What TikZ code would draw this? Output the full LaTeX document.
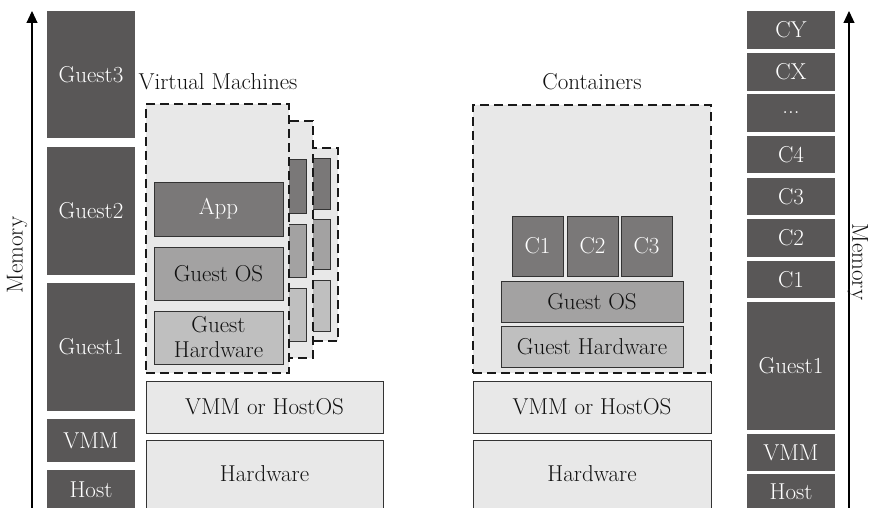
\documentclass[tikz,border=0pt]{standalone}
\usetikzlibrary{arrows.meta}
\definecolor{dk}{HTML}{595757}
\definecolor{appc}{HTML}{7A7878}
\definecolor{osc}{HTML}{A3A2A2}
\definecolor{hwc}{HTML}{BFBFBF}
\definecolor{lt}{HTML}{E8E8E8}
\definecolor{edge}{HTML}{333333}
\definecolor{txtd}{HTML}{111111}
\newcommand\mybox[7]{\node[#1, anchor=north west, minimum width={#5pt-#3pt}, minimum height={#6pt-#4pt}] (#2) at (#3,#4) {#7};}
\tikzset{
  base/.style={inner sep=0pt, outer sep=0pt, font=\fontsize{23}{25}\selectfont, align=center},
  mem/.style={base, fill=dk, text=white},
  appbox/.style={base, fill=appc, draw=edge, line width=0.9pt, text=white},
  osbox/.style={base, fill=osc, draw=edge, line width=0.9pt, text=txtd},
  hwbox/.style={base, fill=hwc, draw=edge, line width=0.9pt, text=txtd},
  ltbox/.style={base, fill=lt, draw=edge, line width=0.9pt, text=txtd},
  dashbox/.style={base, fill=lt, draw=black!90, line width=2pt, dash pattern=on 9pt off 5pt},
  memarrow/.style={draw=black, line width=1.1pt, -{Triangle[length=12pt,width=11pt]}},
  lbl/.style={base, text=txtd}
}
\begin{document}
\begin{tikzpicture}[x=1pt,y=-1pt]
\useasboundingbox (0,0) rectangle (870,508);
\clip (0,0) rectangle (870,508);
% left memory stack
\mybox{mem}{lG3}{47}{11}{135}{138}{Guest3}
\mybox{mem}{lG2}{47}{147}{135}{275}{Guest2}
\mybox{mem}{lG1}{47}{283}{135}{411}{Guest1}
\mybox{mem}{lVMM}{47}{419}{135}{462}{VMM}
\mybox{mem}{lHost}{47}{470}{135}{510}{Host}
\coordinate (la0) at (32,510);
\coordinate (la1) at (32,11);
\draw[memarrow] (la0) -- (la1);
\node[lbl, rotate=90] (memL) at (17,255) {Memory};
% right memory stack
\mybox{mem}{rCY}{747}{11}{835}{49}{CY}
\mybox{mem}{rCX}{747}{53}{835}{91}{CX}
\mybox{mem}{rDots}{747}{94}{835}{132}{...}
\mybox{mem}{rC4}{747}{136}{835}{173}{C4}
\mybox{mem}{rC3}{747}{178}{835}{215}{C3}
\mybox{mem}{rC2}{747}{219}{835}{257}{C2}
\mybox{mem}{rC1}{747}{261}{835}{298}{C1}
\mybox{mem}{rG1}{747}{302}{835}{430}{Guest1}
\mybox{mem}{rVMM}{747}{434}{835}{471}{VMM}
\mybox{mem}{rHost}{747}{474}{835}{510}{Host}
\coordinate (ra0) at (849,510);
\coordinate (ra1) at (849,11);
\draw[memarrow] (ra0) -- (ra1);
\node[lbl, rotate=-90] (memR) at (858,262) {Memory};
% virtual machines
\node[lbl] (vmTitle) at (218,82) {Virtual Machines};
\mybox{dashbox}{vm3}{300}{148}{338}{341}{}
\mybox{appbox}{vm3a}{300}{158}{330}{209}{}
\mybox{osbox}{vm3b}{300}{219}{330}{269}{}
\mybox{hwbox}{vm3c}{300}{280}{330}{331}{}
\mybox{dashbox}{vm2}{200}{121}{313}{358}{}
\mybox{appbox}{vm2a}{270}{159}{306}{213}{}
\mybox{osbox}{vm2b}{270}{224}{306}{277}{}
\mybox{hwbox}{vm2c}{270}{288}{306}{341}{}
\mybox{dashbox}{vm1}{146}{104}{289}{373}{}
\mybox{appbox}{app}{154}{182}{283}{236}{App}
\mybox{osbox}{vmOS}{154}{247}{283}{300}{Guest OS}
\mybox{hwbox}{vmHW}{154}{311}{283}{364}{Guest\\Hardware}
\mybox{ltbox}{vmVMM}{146}{381}{383}{433}{VMM or HostOS}
\mybox{ltbox}{vmHard}{146}{440}{383}{515}{}
\node[lbl] (vmHardT) at (264.5,474) {Hardware};
% containers
\node[lbl] (ctTitle) at (592,82) {Containers};
\mybox{dashbox}{ct}{473}{105}{711}{373}{}
\mybox{appbox}{c1}{512}{216}{563}{276}{C1}
\mybox{appbox}{c2}{567}{216}{618}{276}{C2}
\mybox{appbox}{c3}{621}{216}{672}{276}{C3}
\mybox{osbox}{ctOS}{501}{281}{683}{322}{Guest OS}
\mybox{hwbox}{ctHW}{501}{326}{683}{367}{Guest Hardware}
\mybox{ltbox}{ctVMM}{473}{381}{711}{433}{VMM or HostOS}
\mybox{ltbox}{ctHard}{473}{440}{711}{515}{}
\node[lbl] (ctHardT) at (592,474) {Hardware};
\end{tikzpicture}
\end{document}
